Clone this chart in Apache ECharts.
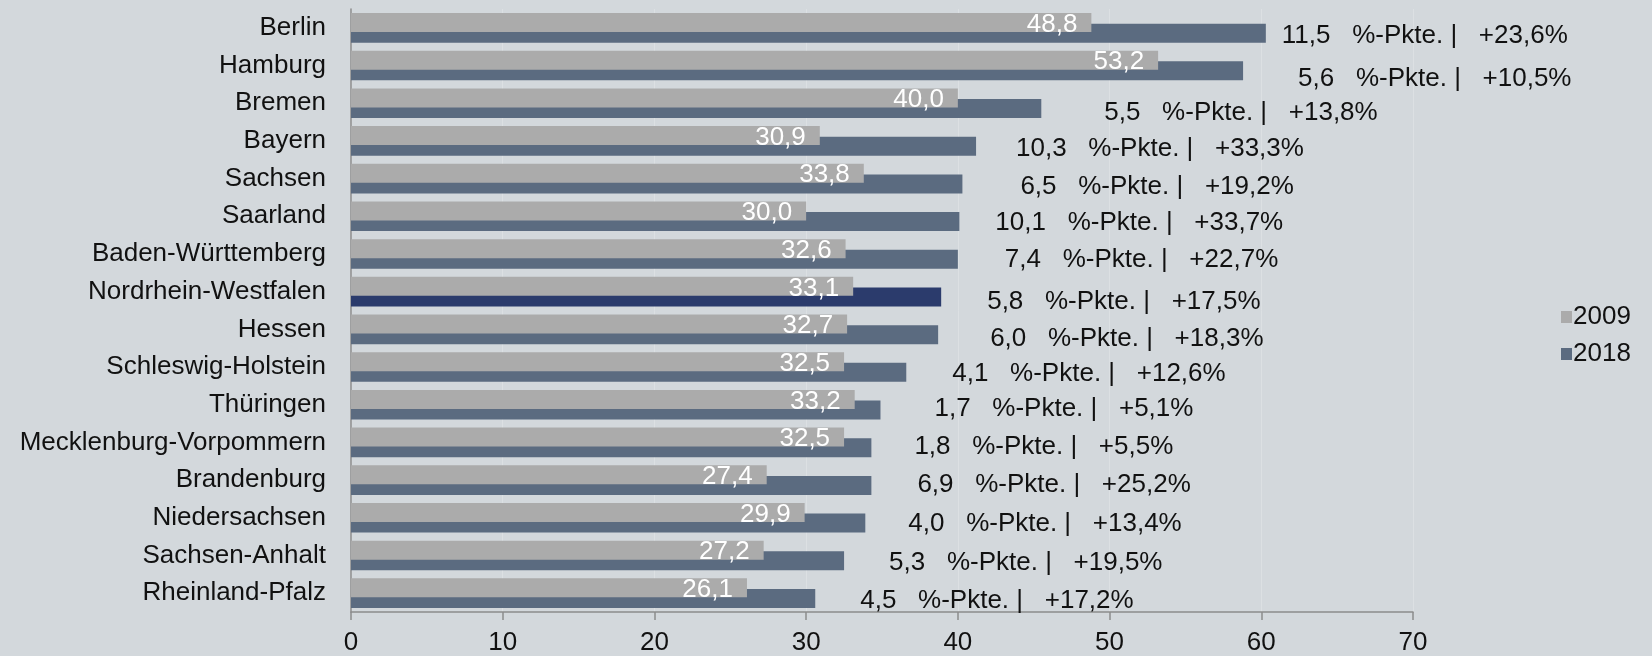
<!DOCTYPE html>
<html><head><meta charset="utf-8">
<script src="https://cdn.jsdelivr.net/npm/echarts@6/dist/echarts.min.js"></script>
<style>html,body{margin:0;padding:0;background:#D3D8DC;}#c{width:1652px;height:656px;}</style>
</head><body><div id="c"></div>
<script>
const categories = ['Berlin','Hamburg','Bremen','Bayern','Sachsen','Saarland','Baden-Württemberg','Nordrhein-Westfalen','Hessen','Schleswig-Holstein','Thüringen','Mecklenburg-Vorpommern','Brandenburg','Niedersachsen','Sachsen-Anhalt','Rheinland-Pfalz'];
const values2009 = [48.8,53.2,40.0,30.9,33.8,30.0,32.6,33.1,32.7,32.5,33.2,32.5,27.4,29.9,27.2,26.1];
const values2018 = [60.3,58.8,45.5,41.2,40.3,40.1,40.0,38.9,38.7,36.6,34.9,34.3,34.3,33.9,32.5,30.6];
const diffPoints = [11.5,5.6,5.5,10.3,6.5,10.1,7.4,5.8,6.0,4.1,1.7,1.8,6.9,4.0,5.3,4.5];
const pctChange = [23.6,10.5,13.8,33.3,19.2,33.7,22.7,17.5,18.3,12.6,5.1,5.5,25.2,13.4,19.5,17.2];
const xTicks = [0,10,20,30,40,50,60,70];
const highlighted = 'Nordrhein-Westfalen';
// label placement offsets (styling only): [dx, dy] in px
const noteOffsets = [[16,3],[55,8],[63,4],[40,3],[58,3],[36,1],[47,1],[46,5],[52,4],[46,1],[54,-1],[43,-1],[46,-1],[43,1],[45,2],[45,2]];

const de = v => v.toFixed(1).replace('.', ',');
const FONT = 'Liberation Sans, Arial, sans-serif';
const FS = 26;

const data2018 = values2018.map((v, i) => ({
  value: v,
  itemStyle: categories[i] === highlighted ? { color: '#2B3B6C' } : undefined,
  label: { offset: noteOffsets[i] }
}));

const chart = echarts.init(document.getElementById('c'), null, { renderer: 'canvas' });
chart.setOption({
  backgroundColor: '#D3D8DC',
  animation: false,
  grid: { left: 351, right: 239, top: 9, bottom: 43, containLabel: false },
  legend: {
    orient: 'vertical', left: 1556, top: 299,
    itemWidth: 11, itemHeight: 12, itemGap: 11,
    icon: 'rect',
    textStyle: { fontFamily: FONT, fontSize: FS, color: '#111', padding: [0,0,0,-4] },
    data: ['2009', '2018']
  },
  xAxis: {
    type: 'value', min: xTicks[0], max: xTicks[xTicks.length - 1], interval: 10,
    axisLine: { show: true, lineStyle: { color: '#8C8C8C', width: 1.5 } },
    axisTick: { show: true, length: 8, lineStyle: { color: '#8C8C8C', width: 1.5 } },
    axisLabel: { fontFamily: FONT, fontSize: FS, color: '#111', margin: 18 },
    splitLine: { show: true, lineStyle: { color: '#DCE0E3', width: 1 } }
  },
  yAxis: {
    type: 'category', data: categories, inverse: true,
    axisLine: { show: true, lineStyle: { color: '#8C8C8C', width: 1.5 } },
    axisTick: { show: false },
    axisLabel: { fontFamily: FONT, fontSize: FS, color: '#111', margin: 25 }
  },
  series: [
    {
      name: '2009', type: 'bar', data: values2009, z: 3,
      barWidth: 19, barGap: '-44%',
      itemStyle: { color: '#ABABAB' },
      label: {
        show: true, position: 'insideRight', distance: 14, offset: [0, 2],
        fontFamily: FONT, fontSize: FS, color: '#FFFFFF',
        formatter: p => de(p.value)
      }
    },
    {
      name: '2018', type: 'bar', data: data2018, z: 2,
      barWidth: 19,
      itemStyle: { color: '#5B6B80' },
      label: {
        show: true, position: 'right', distance: 0,
        fontFamily: FONT, fontSize: FS, color: '#111',
        formatter: p => de(diffPoints[p.dataIndex]) + '   %-Pkte. |   +' + de(pctChange[p.dataIndex]) + '%'
      }
    }
  ]
});
</script></body></html>
